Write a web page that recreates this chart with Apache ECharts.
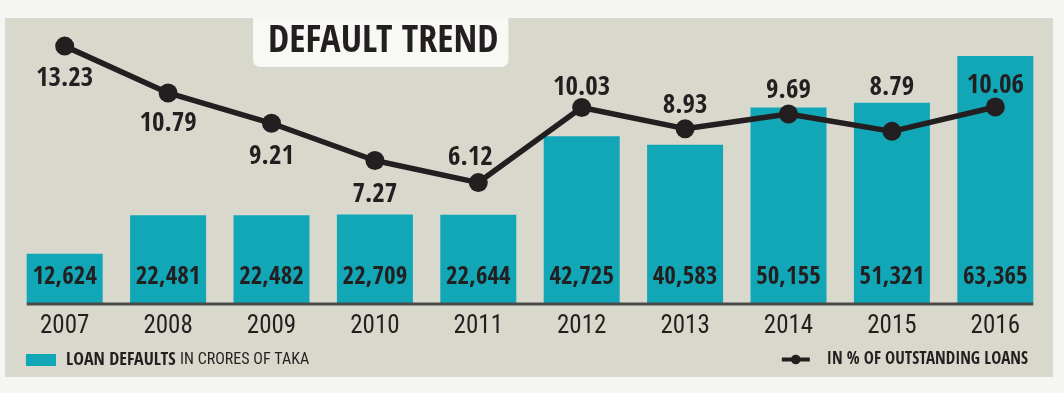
<!DOCTYPE html>
<html>
<head>
<meta charset="utf-8">
<script src="https://cdn.jsdelivr.net/npm/echarts@6/dist/echarts.min.js"></script>
<style>
html,body{margin:0;padding:0;background:#f5f5f3;}
#chart{width:1064px;height:393px;}
</style>
</head>
<body>
<div id="chart"></div>
<script>
// ---- data ----
const years = ['2007', '2008', '2009', '2010', '2011', '2012', '2013', '2014', '2015', '2016'];
const loanDefaults = [12624, 22481, 22482, 22709, 22644, 42725, 40583, 50155, 51321, 63365];
const defaultPct = [13.23, 10.79, 9.21, 7.27, 6.12, 10.03, 8.93, 9.69, 8.79, 10.06];
const titleText = 'DEFAULT TREND';
const barName = 'LOAN DEFAULTS IN CRORES OF TAKA';
const lineName = 'IN % OF OUTSTANDING LOANS';

// ---- style ----
const FONT = "'Open Sans Condensed', 'Roboto Condensed', 'DejaVu Sans Condensed', sans-serif";
const FONT_REG = "'Roboto Condensed', 'Open Sans Condensed', 'DejaVu Sans Condensed', sans-serif";
const TEAL = '#12a7b7';
const DARK = '#231f20';
const BAR_W = 76;
// label placement per point (style only)
const lineLabelStyle = [
  {position: 'bottom', distance: 10},
  {position: 'bottom', distance: 8},
  {position: 'bottom', distance: 11},
  {position: 'bottom', distance: 11},
  {position: 'top', distance: 2, offset: [-8, 0]},
  {position: 'top', distance: -3},
  {position: 'top', distance: 0},
  {position: 'top', distance: 0},
  {position: 'top', distance: 20},
  {position: 'top', distance: -2}
];

const chart = echarts.init(document.getElementById('chart'), null, {renderer: 'canvas'});
const option = {
  backgroundColor: '#f5f5f3',
  animation: false,
  textStyle: {fontFamily: FONT},
  graphic: [
    {id: 'panel', type: 'rect', z: -10, silent: true,
     shape: {x: 5, y: 18, width: 1048, height: 359},
     style: {fill: '#d9d8cc'}}
  ],
  title: {
    text: titleText,
    left: 253, top: 18,
    padding: [5, 10, 6, 15],
    backgroundColor: '#f8f8f5',
    borderRadius: [0, 0, 7, 7],
    textStyle: {fontFamily: FONT, fontSize: 38, fontWeight: 'bold', color: DARK}
  },
  legend: [
    {
      data: [barName],
      left: 21, top: 346,
      itemWidth: 30, itemHeight: 12,
      icon: 'rect',
      formatter: function () { return '{b|LOAN DEFAULTS} {r|IN CRORES OF TAKA}'; },
      textStyle: {
        fontFamily: FONT, fontSize: 18, color: DARK, padding: [0, 0, 0, 5],
        rich: {
          b: {fontFamily: FONT, fontSize: 18, fontWeight: 'bold', color: DARK},
          r: {fontFamily: FONT_REG, fontSize: 16, fontWeight: 'normal', color: DARK}
        }
      }
    },
    {
      data: [lineName],
      right: 31, top: 346,
      itemWidth: 28, itemHeight: 12,
      lineStyle: {width: 4, color: DARK},
      itemStyle: {color: DARK},
      textStyle: {fontFamily: FONT, fontSize: 17, fontWeight: 'bold', color: DARK, padding: [0, 0, 0, 12]}
    }
  ],
  grid: {left: 13, right: 17, top: 30, bottom: 90, containLabel: false},
  xAxis: {
    type: 'category',
    data: years,
    axisLine: {show: false},
    axisTick: {show: false},
    axisLabel: {fontFamily: FONT_REG, fontSize: 25, color: DARK, margin: 11}
  },
  yAxis: [
    {type: 'value', min: 0, max: 70000, show: false, splitLine: {show: false}},
    {type: 'value', min: -0.153, max: 14.07, show: false, splitLine: {show: false}}
  ],
  series: [
    {
      name: barName,
      type: 'bar',
      data: loanDefaults,
      barWidth: BAR_W,
      itemStyle: {color: TEAL},
      label: {
        show: true, position: 'insideBottom', distance: 13,
        fontFamily: FONT, fontSize: 25, fontWeight: 'bold', color: DARK,
        formatter: function (p) { return p.value.toLocaleString('en-US'); }
      },
      z: 2
    },
    {
      name: lineName,
      type: 'line',
      yAxisIndex: 1,
      data: defaultPct.map(function (v, i) {
        return {value: v, label: lineLabelStyle[i]};
      }),
      symbol: 'circle',
      symbolSize: 19,
      lineStyle: {width: 5.5, color: DARK},
      itemStyle: {color: DARK},
      label: {
        show: true, fontFamily: FONT, fontSize: 27, fontWeight: 'bold', color: DARK,
        formatter: function (p) { return p.value.toFixed(2); }
      },
      z: 5
    }
  ]
};
chart.setOption(option);

// baseline rule spanning the bars, positioned from the axes
const xa = chart.convertToPixel({xAxisIndex: 0}, years[0]) - BAR_W / 2;
const xb = chart.convertToPixel({xAxisIndex: 0}, years[years.length - 1]) + BAR_W / 2;
const y0 = chart.convertToPixel({yAxisIndex: 0}, 0);
chart.setOption({
  graphic: [
    {id: 'baseline', type: 'line', z: 3, silent: true,
     shape: {x1: xa, y1: y0 + 1, x2: xb, y2: y0 + 1},
     style: {stroke: '#4a4a48', lineWidth: 3}}
  ]
});
</script>
</body>
</html>
